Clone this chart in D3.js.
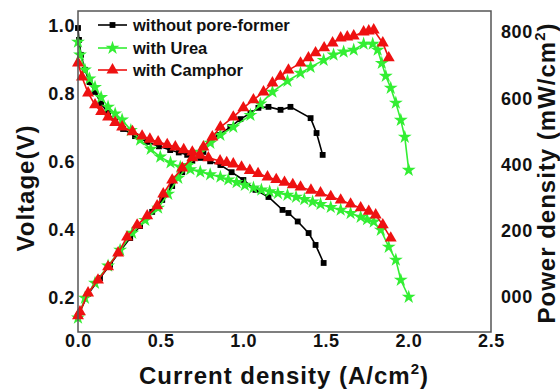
<!DOCTYPE html>
<html><head><meta charset="utf-8">
<script src="https://cdn.jsdelivr.net/npm/d3@7"></script>
<style>body{margin:0;background:#fff}svg{display:block}text{font-family:"Liberation Sans",Arial,sans-serif;font-weight:bold}</style>
</head><body><svg id="c" width="560" height="391"></svg>
<script>
// ---- data ----
const seriesNames = ["without pore-former", "with Urea", "with Camphor"];
const seriesColors = ["#000000", "#33ee33", "#ee1111"];
const xTicks = [0, 0.5, 1.0, 1.5, 2.0, 2.5];
const yLeftTicks = [0.2, 0.4, 0.6, 0.8, 1.0];
const yRightTicks = [0, 200, 400, 600, 800];
const yRightTickLabels = ["000", "200", "400", "600", "800"];

// voltage curves [current A/cm2, voltage V]
const vBlack = [[0,0.994],[0.006,0.959],[0.018,0.915],[0.042,0.871],[0.07,0.835],[0.103,0.806],[0.14,0.772],[0.182,0.744],[0.225,0.718],[0.273,0.697],[0.345,0.676],[0.419,0.659],[0.49,0.646],[0.558,0.635],[0.61,0.628],[0.661,0.621],[0.74,0.612],[0.8,0.602],[0.862,0.591],[0.93,0.57],[1.001,0.547],[1.074,0.518],[1.153,0.497],[1.238,0.459],[1.274,0.45],[1.33,0.425],[1.396,0.391],[1.438,0.356],[1.487,0.303]];
const vUrea = [[0,0.953],[0.012,0.915],[0.042,0.871],[0.07,0.845],[0.103,0.82],[0.14,0.79],[0.182,0.762],[0.225,0.742],[0.267,0.724],[0.32,0.693],[0.376,0.665],[0.44,0.638],[0.498,0.615],[0.56,0.598],[0.619,0.585],[0.68,0.578],[0.74,0.571],[0.8,0.563],[0.862,0.556],[0.91,0.548],[0.96,0.54],[1.01,0.532],[1.062,0.524],[1.11,0.518],[1.16,0.513],[1.21,0.508],[1.268,0.503],[1.32,0.497],[1.37,0.49],[1.42,0.483],[1.468,0.476],[1.53,0.467],[1.59,0.459],[1.65,0.449],[1.711,0.438],[1.75,0.431],[1.79,0.424],[1.833,0.4],[1.881,0.35],[1.924,0.312],[1.954,0.253],[2.002,0.203]];
const vCamphor = [[0,0.891],[0.024,0.85],[0.061,0.803],[0.103,0.768],[0.14,0.748],[0.182,0.732],[0.225,0.716],[0.267,0.703],[0.33,0.689],[0.388,0.676],[0.435,0.667],[0.485,0.659],[0.54,0.651],[0.589,0.644],[0.64,0.636],[0.692,0.629],[0.74,0.62],[0.789,0.612],[0.86,0.603],[0.9,0.598],[0.94,0.594],[0.99,0.585],[1.04,0.575],[1.09,0.566],[1.147,0.556],[1.2,0.548],[1.25,0.54],[1.3,0.533],[1.347,0.526],[1.41,0.517],[1.468,0.509],[1.53,0.498],[1.59,0.488],[1.65,0.476],[1.711,0.465],[1.76,0.455],[1.802,0.444],[1.845,0.415],[1.893,0.376]];

// power curves [current A/cm2, power mW/cm2]
const pBlack = [[0,-57],[0.061,9],[0.133,57],[0.194,97],[0.255,139],[0.316,178],[0.376,214],[0.449,257],[0.51,293],[0.57,335],[0.631,377],[0.692,411],[0.759,438],[0.801,468],[0.85,489],[0.922,513],[0.983,537],[1.044,555],[1.092,571],[1.153,574],[1.226,565],[1.286,574],[1.408,540],[1.444,495],[1.481,429]];
const pUrea = [[0,-63],[0.042,-3],[0.103,42],[0.182,94],[0.255,142],[0.328,193],[0.407,232],[0.485,269],[0.546,311],[0.607,359],[0.667,398],[0.74,438],[0.801,465],[0.862,489],[0.94,513],[1.044,549],[1.104,583],[1.177,619],[1.268,652],[1.347,676],[1.408,694],[1.487,715],[1.547,731],[1.608,740],[1.669,746],[1.729,764],[1.784,764],[1.814,746],[1.839,706],[1.863,667],[1.893,631],[1.924,586],[1.954,534],[1.978,483],[2.002,383]];
const pCamphor = [[0,-57],[0.012,-45],[0.061,12],[0.121,51],[0.182,91],[0.243,133],[0.297,181],[0.358,217],[0.419,245],[0.479,275],[0.516,311],[0.57,353],[0.631,389],[0.692,420],[0.759,453],[0.813,483],[0.862,513],[0.94,543],[1.001,571],[1.062,595],[1.123,619],[1.177,646],[1.225,666],[1.274,685],[1.347,706],[1.395,722],[1.438,737],[1.49,752],[1.541,767],[1.59,782],[1.63,785],[1.669,788],[1.729,800],[1.76,803],[1.79,806],[1.845,767],[1.881,722]];

// ---- drawing ----
const svg = d3.select("#c");
const L = 78, R = 491, T = 11, B = 332;
const x = d3.scaleLinear().domain([0, 2.5]).range([L, R]);
const yL = d3.scaleLinear().domain([0.1, 1.044]).range([B, T]);
const yR = d3.scaleLinear().domain([0, 800]).range([297, 32]);

const symbols = [d3.symbolSquare, d3.symbolStar, d3.symbolTriangle];
const symSizes = [34, 60, 62];

function drawSeries(data, yScale, i) {
  const line = d3.line().x(d => x(d[0])).y(d => yScale(d[1]));
  svg.append("path").datum(data).attr("d", line)
    .attr("fill", "none").attr("stroke", seriesColors[i]).attr("stroke-width", 1.6);
  svg.append("g").selectAll("path").data(data).join("path")
    .attr("transform", d => `translate(${x(d[0])},${yScale(d[1])})`)
    .attr("d", d3.symbol().type(symbols[i]).size(symSizes[i]))
    .attr("fill", seriesColors[i]);
}
const vs = [vBlack, vUrea, vCamphor];
const ps = [pBlack, pUrea, pCamphor];
[0, 1, 2].forEach(i => { drawSeries(ps[i], yR, i); drawSeries(vs[i], yL, i); });

// frame
svg.append("rect").attr("x", L).attr("y", T).attr("width", R - L).attr("height", B - T)
  .attr("fill", "none").attr("stroke", "#555").attr("stroke-width", 1.5);

// axes
const fmt1 = d3.format(".1f");
const gx = svg.append("g").attr("transform", `translate(0,${B})`)
  .call(d3.axisBottom(x).tickValues(xTicks).tickFormat(fmt1).tickSize(0).tickPadding(2));
const gyl = svg.append("g").attr("transform", `translate(${L},0)`)
  .call(d3.axisLeft(yL).tickValues(yLeftTicks).tickFormat(fmt1).tickSize(0).tickPadding(3));
const gyr = svg.append("g").attr("transform", `translate(${R},0)`)
  .call(d3.axisRight(yR).tickValues(yRightTicks).tickFormat((d, i) => yRightTickLabels[i]).tickSize(0).tickPadding(10));
[gx, gyl, gyr].forEach(g => {
  g.select(".domain").remove();
  g.selectAll("text").attr("font-size", 18).attr("fill", "#111").attr("letter-spacing", 0.6)
    .style("font-family", '"Liberation Sans",Arial,sans-serif').style("font-weight", "bold");
});

// titles
const xt = svg.append("text").attr("x", 284).attr("y", 384).attr("text-anchor", "middle")
  .attr("font-size", 24).attr("letter-spacing", 1).attr("fill", "#111");
xt.append("tspan").text("Current density (A/cm");
xt.append("tspan").attr("dy", -10).attr("font-size", 15).text("2");
xt.append("tspan").attr("dy", 10).text(")");

svg.append("text").attr("transform", "translate(34,188) rotate(-90)").attr("text-anchor", "middle")
  .attr("font-size", 24).attr("letter-spacing", 1).attr("fill", "#111").text("Voltage(V)");

const rt = svg.append("text").attr("transform", "translate(555,173) rotate(-90)").attr("text-anchor", "middle")
  .attr("font-size", 24).attr("letter-spacing", 1).attr("fill", "#111");
rt.append("tspan").text("Power density (mW/cm");
rt.append("tspan").attr("dy", -10).attr("font-size", 15).text("2");
rt.append("tspan").attr("dy", 10).text(")");

// legend
const lg = svg.append("g");
const rowsY = [25, 48, 70];
seriesNames.forEach((n, i) => {
  lg.append("line").attr("x1", 98).attr("x2", 127).attr("y1", rowsY[i]).attr("y2", rowsY[i])
    .attr("stroke", seriesColors[i]).attr("stroke-width", 1.6);
  lg.append("path").attr("transform", `translate(112.5,${rowsY[i]})`)
    .attr("d", d3.symbol().type(symbols[i]).size(symSizes[i])).attr("fill", seriesColors[i]);
  lg.append("text").attr("x", 133).attr("y", rowsY[i] + 6).attr("font-size", 16.5).attr("fill", "#111").text(n);
});
</script></body></html>
